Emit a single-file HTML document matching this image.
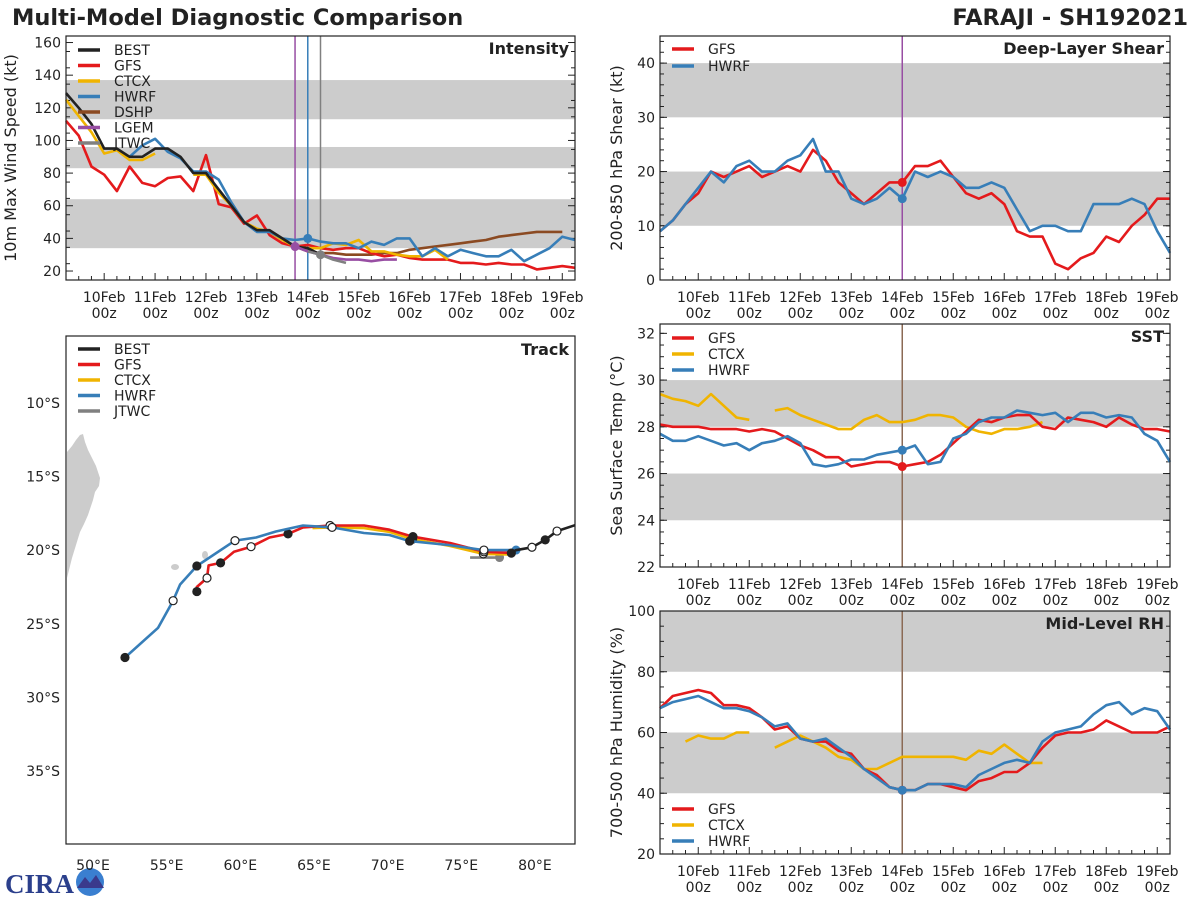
<!DOCTYPE html>
<html><head><meta charset="utf-8">
<style>
html,body{margin:0;padding:0;background:#fff;}
svg{display:block;font-family:"DejaVu Sans","Liberation Sans",sans-serif;}
</style></head>
<body>
<svg id="chart" width="1200" height="900" viewBox="0 0 1200 900" xmlns="http://www.w3.org/2000/svg">
<rect x="0" y="0" width="1200" height="900" fill="#fff"/>
<text x="12" y="25" font-size="22.5" font-weight="bold" fill="#222">Multi-Model Diagnostic Comparison</text>
<text x="1188" y="25" font-size="22.5" font-weight="bold" fill="#222" text-anchor="end">FARAJI - SH192021</text>
<g>
<text x="5" y="893" font-size="27" font-weight="bold" fill="#2b3f8c" font-family="Liberation Serif,serif">CIRA</text>
<circle cx="90" cy="882" r="14" fill="#3a7fd0"/>
<path d="M77,888 L85,877 L90,883 L96,875 L104,888 Z" fill="#3a3a8c"/>
</g>
</svg>
<script>
const C={BEST:'#222222',GFS:'#e41a1c',CTCX:'#f0b400',HWRF:'#377eb8',DSHP:'#8b4a22',LGEM:'#984ea3',JTWC:'#808080'};
// time axis: 6-hourly from 9Feb 06z (t=-0.75 days relative to 10Feb 00z)
const t0=-0.75;
const dayLabels=['10Feb','11Feb','12Feb','13Feb','14Feb','15Feb','16Feb','17Feb','18Feb','19Feb'];
// Intensity (kt)
const intBEST=[129,120,110,95,95,90,90,95,95,90,80,80,70,60,50,45,45,40,35,34,30];
const intCTCX=[125,115,105,92,94,88,88,92,null,null,79,79,68,60,50,46,44,39,35,34,34,37,36,39,32,32,30,29,29,33,27];
const intHWRF=[null,null,null,null,null,90,97,101,93,89,81,81,76,62,50,44,44,40,39,40,38,37,37,34,38,36,40,40,29,34,29,33,31,29,29,33,26,30,34,41,39];
const intGFS=[112,103,84,79,69,84,74,72,77,78,69,91,61,59,49,54,42,37,35,36,34,33,34,34,31,29,30,28,27,27,27,25,25,24,25,24,24,21,22,23,22];
const intDSHP=[null,null,null,null,null,null,null,null,null,null,null,null,null,null,null,null,null,null,35,32,31,31,30,30,30,31,31,33,34,35,36,37,38,39,41,42,43,44,44,44];
const intLGEM=[null,null,null,null,null,null,null,null,null,null,null,null,null,null,null,null,null,null,35,32,30,28,27,27,26,27,27];
const intJTWC=[null,null,null,null,null,null,null,null,null,null,null,null,null,null,null,null,null,null,null,32,30,27,25];
const intTicks=[20,40,60,80,100,120,140,160];
// Deep-layer shear (kt)
const shrGFS=[9,11,14,16,20,19,20,21,19,20,21,20,24,22,18,16,14,16,18,18,21,21,22,19,16,15,16,14,9,8,8,3,2,4,5,8,7,10,12,15,15];
const shrHWRF=[9,11,14,17,20,18,21,22,20,20,22,23,26,20,20,15,14,15,17,15,20,19,20,19,17,17,18,17,13,9,10,10,9,9,14,14,14,15,14,9,5];
const shrTicks=[0,10,20,30,40];
// SST (C)
const sstGFS=[28.1,28.0,28.0,28.0,27.9,27.9,27.9,27.8,27.9,27.8,27.5,27.2,27.0,26.7,26.7,26.3,26.4,26.5,26.5,26.3,26.4,26.5,26.8,27.3,27.8,28.3,28.2,28.4,28.5,28.5,28.0,27.9,28.4,28.3,28.2,28.0,28.4,28.1,27.9,27.9,27.8];
const sstHWRF=[27.7,27.4,27.4,27.6,27.4,27.2,27.3,27.0,27.3,27.4,27.6,27.3,26.4,26.3,26.4,26.6,26.6,26.8,26.9,27.0,27.2,26.4,26.5,27.5,27.7,28.2,28.4,28.4,28.7,28.6,28.5,28.6,28.2,28.6,28.6,28.4,28.5,28.4,27.7,27.4,26.5];
const sstCTCX=[29.4,29.2,29.1,28.9,29.4,28.9,28.4,28.3,null,28.7,28.8,28.5,28.3,28.1,27.9,27.9,28.3,28.5,28.2,28.2,28.3,28.5,28.5,28.4,28.0,27.8,27.7,27.9,27.9,28.0,28.2];
const sstTicks=[22,24,26,28,30,32];
// Mid-level RH (%)
const rhGFS=[68,72,73,74,73,69,69,68,65,61,62,58,57,57,54,53,48,46,42,41,41,43,43,42,41,44,45,47,47,50,55,59,60,60,61,64,62,60,60,60,62];
const rhHWRF=[68,70,71,72,70,68,68,67,65,62,63,58,57,58,55,52,48,45,42,41,41,43,43,43,42,46,48,50,51,50,57,60,61,62,66,69,70,66,68,67,61];
const rhCTCX=[null,null,57,59,58,58,60,60,null,55,57,59,57,55,52,51,48,48,50,52,52,52,52,52,51,54,53,56,53,50,50];
const rhTicks=[20,40,60,80,100];
// Track (lon E, lat S)
const trkBESTlon=[82.72,81.5,80.7,79.8,78.7,78.4];
const trkBESTlat=[18.3,18.7,19.3,19.8,20.0,20.2];
const trkHWRFlon=[78.72,76.54,74.13,71.5,70.12,68.40,66.23,64.26,62.42,61.07,59.64,57.05,55.91,55.44,54.42,52.17];
const trkHWRFlat=[19.99,19.99,19.65,19.38,18.97,18.83,18.45,18.32,18.73,19.14,19.35,21.07,22.33,23.43,25.27,27.29];
const trkGFSlon=[78.49,76.54,74.24,71.72,70.12,68.40,66.09,64.26,63.24,61.98,60.73,59.57,58.66,57.85,57.74,57.05,57.05];
const trkGFSlat=[20.19,20.11,19.51,19.08,18.61,18.32,18.32,18.45,18.89,19.14,19.76,20.11,20.86,21.03,21.89,22.50,22.81];
const trkCTCXlon=[78.5,76.5,74.2,71.7,70.1,68.4,66.1,64.9];
const trkCTCXlat=[20.3,20.25,19.7,19.25,18.75,18.5,18.45,18.5];
const trkJTWClon=[75.6,77.6];
const trkJTWClat=[20.5,20.5];
const lonTicks=[50,55,60,65,70,75,80];
const latTicks=[10,15,20,25,30,35];

const svg=document.getElementById('chart');
const NS='http://www.w3.org/2000/svg';
function mk(tag,at,parent){const e=document.createElementNS(NS,tag);for(const k in at)e.setAttribute(k,at[k]);(parent||svg).appendChild(e);return e;}

function panel(o){
  const g=mk('g',{});
  
  
  const X=t=>o.x0+(t-t0)/(10)*(o.x1-o.x0);
  const Y=v=>o.y1-(v-o.ymin)/(o.ymax-o.ymin)*(o.y1-o.y0);
  o.bands.forEach(b=>{const r=mk('rect',{x:o.x0,y:Y(b[1]),width:o.x1-o.x0,height:Y(b[0])-Y(b[1]),fill:'#cccccc'},g);
    });
  for(let i=0;i<=40;i++){const t=t0+i*0.25;const x=X(t);const major=Math.abs(t-Math.round(t))<1e-6&&t>=0;
    mk('line',{x1:x,x2:x,y1:o.y1,y2:o.y1-(major?7:4),stroke:'#222','stroke-width':1},g);}
  dayLabels.forEach((d,i)=>{const x=X(i);
    const a=mk('text',{x:x,y:o.y1+22,'font-size':14,'text-anchor':'middle',fill:'#222'},g);a.textContent=d;
    
    const b=mk('text',{x:x,y:o.y1+38,'font-size':14,'text-anchor':'middle',fill:'#222'},g);b.textContent='00z';
    });
  for(let v=o.ymin;v<=o.ymax+1e-6;v+=o.minor){const y=Y(v);mk('line',{x1:o.x0,x2:o.x0+4,y1:y,y2:y,stroke:'#222'},g);mk('line',{x1:o.x1,x2:o.x1-4,y1:y,y2:y,stroke:'#222'},g);}
  o.ticks.forEach(v=>{const y=Y(v);mk('line',{x1:o.x0,x2:o.x0+7,y1:y,y2:y,stroke:'#222'},g);mk('line',{x1:o.x1,x2:o.x1-7,y1:y,y2:y,stroke:'#222'},g);
    const t=mk('text',{x:o.x0-5,y:y+5,'font-size':14,'text-anchor':'end',fill:'#222'},g);t.textContent=v;
    });
  (o.vlines||[]).forEach(vl=>{const l=mk('line',{x1:X(vl[0]),x2:X(vl[0]),y1:o.y0,y2:o.y1,stroke:vl[1],'stroke-width':1.5},g);
    });
  o.series.forEach(s=>{let d='',pen=false;s.v.forEach((v,i)=>{if(v==null){pen=false;return;}d+=(pen?'L':'M')+X(t0+i*0.25).toFixed(1)+','+Y(v).toFixed(1);pen=true;});
    const p=mk('path',{d:d,fill:'none',stroke:C[s.k],'stroke-width':2.6,'stroke-linejoin':'round'},g);
    
    if(s.dot!=null){const v=s.v[s.dot];if(v!=null){const c=mk('circle',{cx:X(t0+s.dot*0.25),cy:Y(v),r:4.5,fill:C[s.k]},g);
      }}});
  mk('rect',{x:o.x0,y:o.y0,width:o.x1-o.x0,height:o.y1-o.y0,fill:'none',stroke:'#222','stroke-width':1.2},g);
  const ti=mk('text',{x:o.x1-6,y:o.y0+18,'font-size':16,'font-weight':'bold','text-anchor':'end',fill:'#222'},g);ti.textContent=o.title;
  
  const yl=mk('text',{x:0,y:0,'font-size':16,'text-anchor':'middle',fill:'#222',transform:`translate(${o.ylx},${(o.y0+o.y1)/2}) rotate(-90)`},g);yl.textContent=o.ylabel;
  
  legend(g,o.legend,o.x0+8,o.legY,o.legDy);
}
function legend(g,keys,x,y,dy){keys.forEach((k,i)=>{const yy=y+i*dy;
  const e=mk('g',{},g);
  mk('line',{x1:x+4,x2:x+26,y1:yy,y2:yy,stroke:C[k],'stroke-width':3.5},e);
  const t=mk('text',{x:x+40,y:yy+5,'font-size':14,fill:'#222'},e);t.textContent=k;});}

panel({name:'intensity-panel',x0:66,x1:575,y0:36,y1:280,ymin:14.5,ymax:164,ticks:intTicks,minor:10,
  bands:[[34,64],[83,96],[113,137]],title:'Intensity',ylabel:'10m Max Wind Speed (kt)',ylx:16,
  vlines:[[3.75,'#984ea3'],[4.0,'#377eb8'],[4.25,'#808080']],
  series:[{k:'DSHP',v:intDSHP},{k:'GFS',v:intGFS},{k:'CTCX',v:intCTCX},{k:'HWRF',v:intHWRF,dot:19},{k:'BEST',v:intBEST},{k:'LGEM',v:intLGEM,dot:18},{k:'JTWC',v:intJTWC,dot:20}],
  legend:['BEST','GFS','CTCX','HWRF','DSHP','LGEM','JTWC'],legY:50,legDy:15.5});
panel({name:'shear-panel',x0:660,x1:1170,y0:36,y1:280,ymin:0,ymax:45,ticks:shrTicks,minor:2,
  bands:[[10,20],[30,40]],title:'Deep-Layer Shear',ylabel:'200-850 hPa Shear (kt)',ylx:622,
  vlines:[[4.0,'#984ea3']],series:[{k:'GFS',v:shrGFS,dot:19},{k:'HWRF',v:shrHWRF,dot:19}],legend:['GFS','HWRF'],legY:49,legDy:17});
panel({name:'sst-panel',x0:660,x1:1170,y0:324,y1:567,ymin:22,ymax:32.4,ticks:sstTicks,minor:0.5,
  bands:[[24,26],[28,30]],title:'SST',ylabel:'Sea Surface Temp (°C)',ylx:622,
  vlines:[[4.0,'#8b6a55']],series:[{k:'CTCX',v:sstCTCX},{k:'GFS',v:sstGFS,dot:19},{k:'HWRF',v:sstHWRF,dot:19}],legend:['GFS','CTCX','HWRF'],legY:338,legDy:16});
panel({name:'rh-panel',x0:660,x1:1170,y0:611,y1:854,ymin:20,ymax:100,ticks:rhTicks,minor:5,
  bands:[[40,60],[80,100]],title:'Mid-Level RH',ylabel:'700-500 hPa Humidity (%)',ylx:622,
  vlines:[[4.0,'#8b6a55']],series:[{k:'CTCX',v:rhCTCX},{k:'GFS',v:rhGFS,dot:19},{k:'HWRF',v:rhHWRF,dot:19}],legend:['GFS','CTCX','HWRF'],legY:809,legDy:16});

(function(){
  const x0=66,x1=575,y0=336,y1=844;
  const LX=lon=>93+(lon-50)*14.73, LY=lat=>403+(lat-10)*14.72;
  const g=mk('g',{});
  const land=mk('polygon',{points:'67,452 72,446 76,440 80,435 83,434 85,442 88,450 92,458 96,466 100,478 99,486 95,492 93,500 91,506 88,515 84,524 80,532 76,545 72,558 69,570 67,578',fill:'#cccccc'},g);
  
  const isl=mk('ellipse',{cx:175,cy:567,rx:4,ry:3,fill:'#cccccc'},g);
  const isl2=mk('ellipse',{cx:205,cy:555,rx:3,ry:4,fill:'#cccccc'},g);
  function trk(k,lon,lat,dots){let d='';lon.forEach((v,i)=>{d+=(i?'L':'M')+LX(v).toFixed(1)+','+LY(lat[i]).toFixed(1);});
    const p=mk('path',{d:d,fill:'none',stroke:C[k],'stroke-width':2.6,'stroke-linejoin':'round'},g);
    
    dots.forEach(dd=>{const c=mk('circle',{cx:LX(lon[dd[0]]),cy:LY(lat[dd[0]]),r:4,fill:dd[1]?'#222':'#fff',stroke:'#222','stroke-width':1.2},g);
      });}
  trk('JTWC',trkJTWClon,trkJTWClat,[]);
  const jd=mk('circle',{cx:LX(trkJTWClon[1]),cy:LY(trkJTWClat[1]),r:4.5,fill:'#808080'},g);
  trk('CTCX',trkCTCXlon,trkCTCXlat,[[1,0],[3,1]]);
  trk('GFS',trkGFSlon,trkGFSlat,[[1,0],[3,1],[6,0],[8,1],[10,0],[12,1],[14,0],[16,1]]);
  trk('HWRF',trkHWRFlon,trkHWRFlat,[[1,0],[3,1],[6,0],[10,0],[11,1],[13,0],[15,1]]);
  const hd=mk('circle',{cx:LX(trkHWRFlon[0]),cy:LY(trkHWRFlat[0]),r:4.5,fill:C.HWRF},g);
  trk('BEST',trkBESTlon,trkBESTlat,[[1,0],[2,1],[3,0],[5,1]]);
  lonTicks.forEach(v=>{const t=mk('text',{x:LX(v),y:870,'font-size':14,'text-anchor':'middle',fill:'#222'},g);t.textContent=v+'°E';
    });
  latTicks.forEach(v=>{const t=mk('text',{x:60,y:LY(v)+5,'font-size':14,'text-anchor':'end',fill:'#222'},g);t.textContent=v+'°S';
    });
  mk('rect',{x:x0,y:y0,width:x1-x0,height:y1-y0,fill:'none',stroke:'#222','stroke-width':1.2},g);
  const ti=mk('text',{x:x1-6,y:y0+19,'font-size':16,'font-weight':'bold','text-anchor':'end',fill:'#222'},g);ti.textContent='Track';
  
  legend(g,['BEST','GFS','CTCX','HWRF','JTWC'],x0+8,349,15.5);
})();
</script>
</body></html>
